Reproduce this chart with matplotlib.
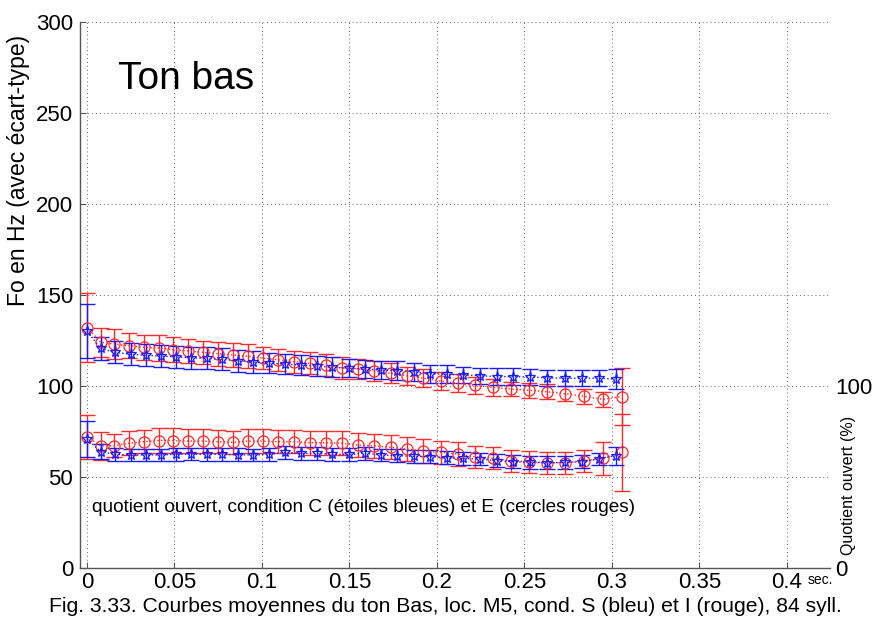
import matplotlib
matplotlib.use("Agg")
import matplotlib.pyplot as plt
import numpy as np

plt.rcParams['font.family'] = ['Liberation Sans', 'DejaVu Sans']

# ---- data ----
t_blue = [0, 0.0078, 0.0162, 0.0250, 0.0336, 0.0421, 0.0510, 0.0596, 0.0684, 0.0773,
          0.0861, 0.0949, 0.1040, 0.1131, 0.1221, 0.1313, 0.1402, 0.1497, 0.1589, 0.1680,
          0.1773, 0.1869, 0.1960, 0.2055, 0.2150, 0.2246, 0.2345, 0.2436, 0.2531, 0.2630,
          0.2731, 0.2827, 0.2927, 0.3021]
t_red = [0, 0.0078, 0.0156, 0.0240, 0.0326, 0.0410, 0.0493, 0.0579, 0.0665, 0.0747,
         0.0833, 0.0918, 0.1004, 0.1090, 0.1183, 0.1274, 0.1366, 0.1455, 0.1547, 0.1640,
         0.1735, 0.1827, 0.1922, 0.2021, 0.2118, 0.2217, 0.2318, 0.2421, 0.2526, 0.2627,
         0.2733, 0.2840, 0.2947, 0.3055]

f0_blue = [130.1, 120.6, 118.4, 117.4, 116.8, 116.4, 115.9, 115.5, 115.1, 114.6,
           113.8, 113.1, 112.4, 112.0, 111.5, 110.9, 110.2, 109.7, 109.3, 108.7,
           108.4, 107.8, 106.7, 106.4, 106.0, 105.6, 105.1, 105.1, 104.9, 104.5,
           104.2, 104.2, 104.2, 103.8]
f0_blue_sd = [15, 6.5, 6, 6, 6, 6, 6, 6, 6, 6, 6, 6, 5.5, 5.5, 5.5, 5.5, 5.5, 5, 5, 5,
              5, 5, 5, 5, 4.5, 4.5, 4.5, 4.5, 4.5, 4.5, 4.5, 4.5, 4.5, 5.5]
f0_red = [132.0, 124.0, 123.0, 122.1, 121.2, 120.8, 119.9, 119.2, 118.4, 117.7,
          117.0, 116.3, 115.2, 114.4, 113.3, 112.4, 111.5, 110.0, 109.3, 108.2,
          106.9, 105.6, 104.2, 102.7, 101.4, 100.3, 99.2, 98.3, 97.6, 96.8,
          95.7, 94.3, 92.6, 94.1]
f0_red_sd = [19, 8, 8, 7, 7, 7, 7, 6.5, 6.5, 6.5, 6.5, 6.5, 6, 6, 6, 6, 6, 6, 5.5, 5.5,
             5.5, 5, 5, 5, 5, 4.5, 4.5, 4, 4, 4, 4, 4, 4, 15.5]

oq_blue = [70.8, 63.9, 62.4, 62.1, 62.1, 62.1, 62.4, 62.6, 62.4, 62.4,
           62.2, 62.1, 62.4, 63.5, 63.0, 63.0, 62.4, 62.4, 63.0, 62.1,
           61.7, 61.3, 61.2, 60.6, 60.2, 59.9, 58.9, 58.4, 58.0, 57.8,
           58.0, 58.4, 59.9, 61.7]
oq_blue_sd = [10, 4, 3.5, 3.5, 3.5, 3.5, 3.5, 3.5, 3.5, 3.5, 3.5, 3.5, 3.5, 3.5, 3.5,
              3.5, 3.5, 3.5, 3.5, 3.5, 3.5, 3.5, 3.5, 3.5, 3.5, 3.5, 3.5, 3.5, 3.5,
              3.5, 3.5, 3.5, 3.5, 5]
oq_red = [72.1, 67.0, 67.2, 68.5, 69.4, 70.0, 70.0, 69.7, 69.7, 69.4,
          69.0, 69.7, 69.7, 69.4, 69.4, 68.8, 68.8, 68.5, 67.5, 67.0,
          66.3, 65.3, 64.4, 63.5, 62.6, 61.1, 60.2, 58.9, 58.4, 57.8,
          57.8, 58.8, 60.2, 63.5]
oq_red_sd = [12, 7.5, 6.5, 6.5, 6.5, 7, 7, 6.5, 6.5, 6.5, 6.5, 6.5, 6.5, 6.5, 6.5,
             6.5, 6.5, 6.5, 6.5, 6.5, 6.5, 6.5, 6.5, 6.5, 6.5, 6, 6, 6, 6, 6, 6, 6,
             9, 21]

x_ticks = [0, 0.05, 0.1, 0.15, 0.2, 0.25, 0.3, 0.35, 0.4]
x_tick_labels = ['0', '0.05', '0.1', '0.15', '0.2', '0.25', '0.3', '0.35', '0.4']
y_ticks = [0, 50, 100, 150, 200, 250, 300]
right_ticks = [0, 100]
right_tick_labels = ['0', '100']

BLUE = '#1a1aff'
RED = '#ff2a2a'

fig = plt.figure(figsize=(8.72, 6.2), dpi=100)
ax = fig.add_axes([80/872, 52/620, 750/872, (568-21.7)/620])

def series(t, y, sd, color, marker, ms):
    ax.errorbar(t, y, yerr=sd, fmt='none', ecolor=color, elinewidth=1.0,
                capsize=6, capthick=1.0, zorder=3)
    ax.plot(t, y, linestyle=':', color=color, linewidth=1.0,
            marker=marker, markersize=ms, markerfacecolor='none',
            markeredgecolor=color, markeredgewidth=0.9, zorder=4)

series(t_red, f0_red, f0_red_sd, RED, 'o', 8)
series(t_blue, f0_blue, f0_blue_sd, BLUE, '*', 8)
series(t_red, oq_red, oq_red_sd, RED, 'o', 8)
series(t_blue, oq_blue, oq_blue_sd, BLUE, '*', 8)

ax.set_xlim(-0.004, 0.4246)
ax.set_ylim(0, 300)
ax.set_xticks(x_ticks)
ax.set_xticklabels(x_tick_labels)
ax.set_yticks(y_ticks)
ax.grid(True, linestyle=(0, (1, 3)), color='#666666', linewidth=0.7)
ax.set_axisbelow(True)
for s in ['top', 'right']:
    ax.spines[s].set_visible(False)
for s in ['left', 'bottom']:
    ax.spines[s].set_color('#555555')
    ax.spines[s].set_linewidth(1.0)
ax.tick_params(direction='in', length=4, labelsize=16, colors='#555555',
               labelcolor='black', pad=5)
ax.tick_params(axis='x', pad=3)

ax2 = ax.twinx()
ax2.set_ylim(0, 300)
ax2.set_yticks(right_ticks)
ax2.set_yticklabels(right_tick_labels)
for s in ax2.spines.values():
    s.set_visible(False)
ax2.tick_params(length=0, labelsize=16, pad=4)

fig.text(0.021, (620-170)/620, 'Fo en Hz (avec écart-type)', rotation=90,
         ha='center', va='center', fontsize=16.5)
fig.text(848/872, (620-485)/620, 'Quotient ouvert (%)', rotation=90,
         ha='center', va='center', fontsize=11.5)
ax.text(0.051, 0.877, 'Ton bas', transform=ax.transAxes, fontsize=28,
        ha='left', va='baseline')
ax.text(92/872, (620-508)/620, 'quotient ouvert, condition C (étoiles bleues) et E (cercles rouges)',
        transform=fig.transFigure, fontsize=13.7, ha='left', va='center')
fig.text(808/872, (620-580)/620, 'sec.', fontsize=10, ha='left', va='center')
fig.text(445/872, (620-607)/620,
         'Fig. 3.33. Courbes moyennes du ton Bas, loc. M5, cond. S (bleu) et I (rouge), 84 syll.',
         fontsize=15.2, ha='center', va='center')

fig.savefig('out.png', dpi=100)
